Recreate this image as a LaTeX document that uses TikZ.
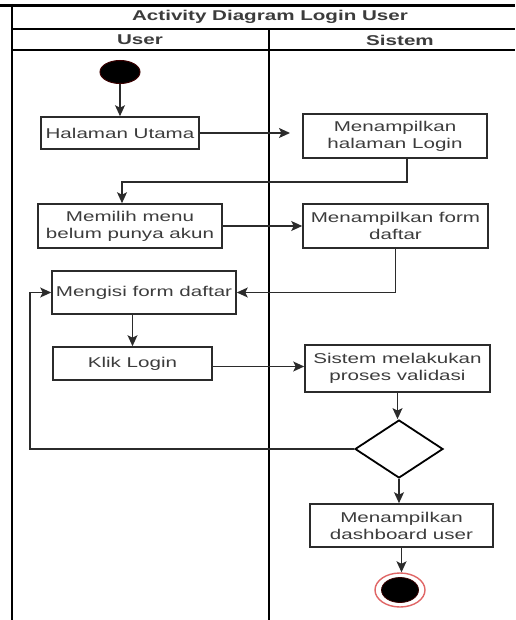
\documentclass[tikz,border=0pt]{standalone}
\usepackage{fontspec}
\setmainfont[FakeStretch=1.45]{Liberation Sans}
\usetikzlibrary{arrows.meta,shapes.geometric}
\definecolor{ink}{HTML}{2B2B2B}
\definecolor{txt}{HTML}{3C3C3C}
\definecolor{ring}{HTML}{E06666}
\definecolor{startedge}{HTML}{3A0000}
\begin{document}
\begin{tikzpicture}[x=1pt,y=-1pt,
  font=\fontsize{14.2}{17}\selectfont,
  act/.style={draw=ink,line width=1.6pt,text=txt,align=center,inner sep=0pt,
    rectangle},
  arr/.style={draw=ink,line width=1.4pt,-{Stealth[length=11pt,width=10pt,inset=2.5pt]}},
  pool/.style={draw=black,line width=1.8pt},
  head/.style={font=\fontsize{14.2}{17}\selectfont\bfseries,text=txt}]
\useasboundingbox (0,0) rectangle (515,620);

% swimlane frame
\draw[draw=black,line width=3pt] (0,5.5) -- (515,5.5);
\draw[pool] (12,4) -- (12,620);
\draw[pool] (12,29) -- (515,29);
\draw[pool] (12,50) -- (515,50);
\draw[pool] (269,29) -- (269,620);
\node[head] (title) at (270,17) {Activity Diagram Login User};
\node[head] (huser) at (140,40) {User};
\node[head] (hsys) at (400,40) {Sistem};

% initial node
\node[ellipse,fill=black,draw=startedge,line width=1pt,minimum width=40pt,minimum height=23pt,inner sep=0pt] (start) at (120,72) {};

% actions
\node[act,minimum width=158pt,minimum height=32pt] (hal) at (120,133) {Halaman Utama};
\node[act,minimum width=184pt,minimum height=44pt] (login) at (395,136) {Menampilkan\\halaman Login};
\node[act,minimum width=184pt,minimum height=44pt] (mem) at (130,226) {Memilih menu\\belum punya akun};
\node[act,minimum width=185pt,minimum height=44pt] (form) at (395.5,226) {Menampilkan form\\daftar};
\node[act,minimum width=184pt,minimum height=43pt] (meng) at (144,292.5) {Mengisi form daftar};
\node[act,minimum width=159pt,minimum height=33pt] (klik) at (132.5,363.5) {Klik Login};
\node[act,minimum width=185pt,minimum height=47pt] (sis) at (397.5,368.5) {Sistem melakukan\\proses validasi};
\node[diamond,draw=black,line width=1.8pt,minimum width=88pt,minimum height=58pt,inner sep=0pt,aspect=1.5] (dia) at (399,449) {};
\node[act,minimum width=183pt,minimum height=43pt] (dash) at (401.5,525.5) {Menampilkan\\dashboard user};

% final node
\node[ellipse,draw=ring,line width=1.4pt,fill=white,minimum width=50pt,minimum height=34pt,inner sep=0pt] (endo) at (400,590) {};
\node[ellipse,fill=black,draw=startedge,line width=0.8pt,minimum width=37pt,minimum height=25pt,inner sep=0pt] (endi) at (400,590) {};

% helper points for bends and free ends
\coordinate (tip1) at (290,133);
\coordinate (bend1) at (122,182);
\coordinate (bend2) at (30,449);

% flows
\draw[arr] (start) -- (hal);
\draw[arr] (hal.east) -- (tip1);
\draw[arr] ([xshift=12pt]login.south) |- (bend1) -- ([xshift=-8pt]mem.north);
\draw[arr] (mem.east) -- (form.west);
\draw[arr] (form.south) |- (meng.east);
\draw[arr] (meng.south -| klik.north) -- (klik.north);
\draw[arr] ([yshift=-3pt]klik.east) -- ([yshift=-3pt]klik.east -| sis.west);
\draw[arr] (sis.south) -- (sis.south |- dia.north);
\draw[arr] (dia.west) -- (bend2) |- (meng.west);
\draw[arr] (dia.south) -- (dia.south |- dash.north);
\draw[arr] (dash.south) -- (dash.south |- endo.north);
\end{tikzpicture}
\end{document}
